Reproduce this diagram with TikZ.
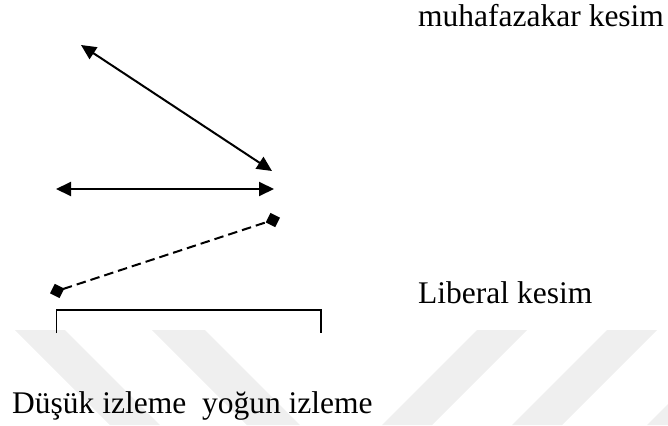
\documentclass[tikz,border=0pt]{standalone}
\usepackage{fontspec}
\setmainfont{Liberation Serif}
\usetikzlibrary{arrows.meta}
\definecolor{wmgray}{HTML}{EFEFEF}
\begin{document}
\begin{tikzpicture}[x=1pt,y=-1pt,
  lbl/.style={anchor=base west, inner sep=0pt, font=\fontsize{31.5}{36}\selectfont},
  conn/.style={line width=2pt},
  dbl/.style={conn, {Triangle[length=15pt,width=14pt]}-{Triangle[length=15pt,width=14pt]}},
  dia/.style={conn, dash pattern=on 9.5pt off 5pt, {Turned Square[length=15pt,width=15pt]}-{Turned Square[length=15pt,width=15pt]}},
  brk/.style={line width=1.3pt},
  wm/.style={fill=wmgray, draw=none}]
\useasboundingbox (0,0) rectangle (668,425);
% watermark stripes
\fill[wm] (15,330) -- (65,330) -- (160,425) -- (110,425) -- cycle;
\fill[wm] (152,330) -- (205,330) -- (300,425) -- (247,425) -- cycle;
\fill[wm] (477,330) -- (527,330) -- (432,425) -- (382,425) -- cycle;
\fill[wm] (607,330) -- (657,330) -- (562,425) -- (512,425) -- cycle;
\fill[wm] (647,425) -- (668,404) -- (668,425) -- cycle;
% labels
\node[lbl] (muh) at (418,27) {muhafazakar kesim};
\node[lbl] (lib) at (418,303) {Liberal kesim};
\node[lbl] (izl) at (12,413) {Düşük izleme\ \ yoğun izleme};
% connectors
\coordinate (a1) at (81,45);
\coordinate (a2) at (272,171);
\coordinate (h1) at (56,189);
\coordinate (h2) at (274,189);
\coordinate (d1) at (50,293.3);
\coordinate (d2) at (280,217.7);
\coordinate (b1) at (56.5,333);
\coordinate (b2) at (56.5,310);
\coordinate (b3) at (321,310);
\coordinate (b4) at (321,333);
\draw[dbl] (a1) -- (a2);
\draw[dbl] (h1) -- (h2);
\draw[dia] (d1) -- (d2);
\draw[brk] (b1) -- (b2) -- (b3) -- (b4);
\end{tikzpicture}
\end{document}
